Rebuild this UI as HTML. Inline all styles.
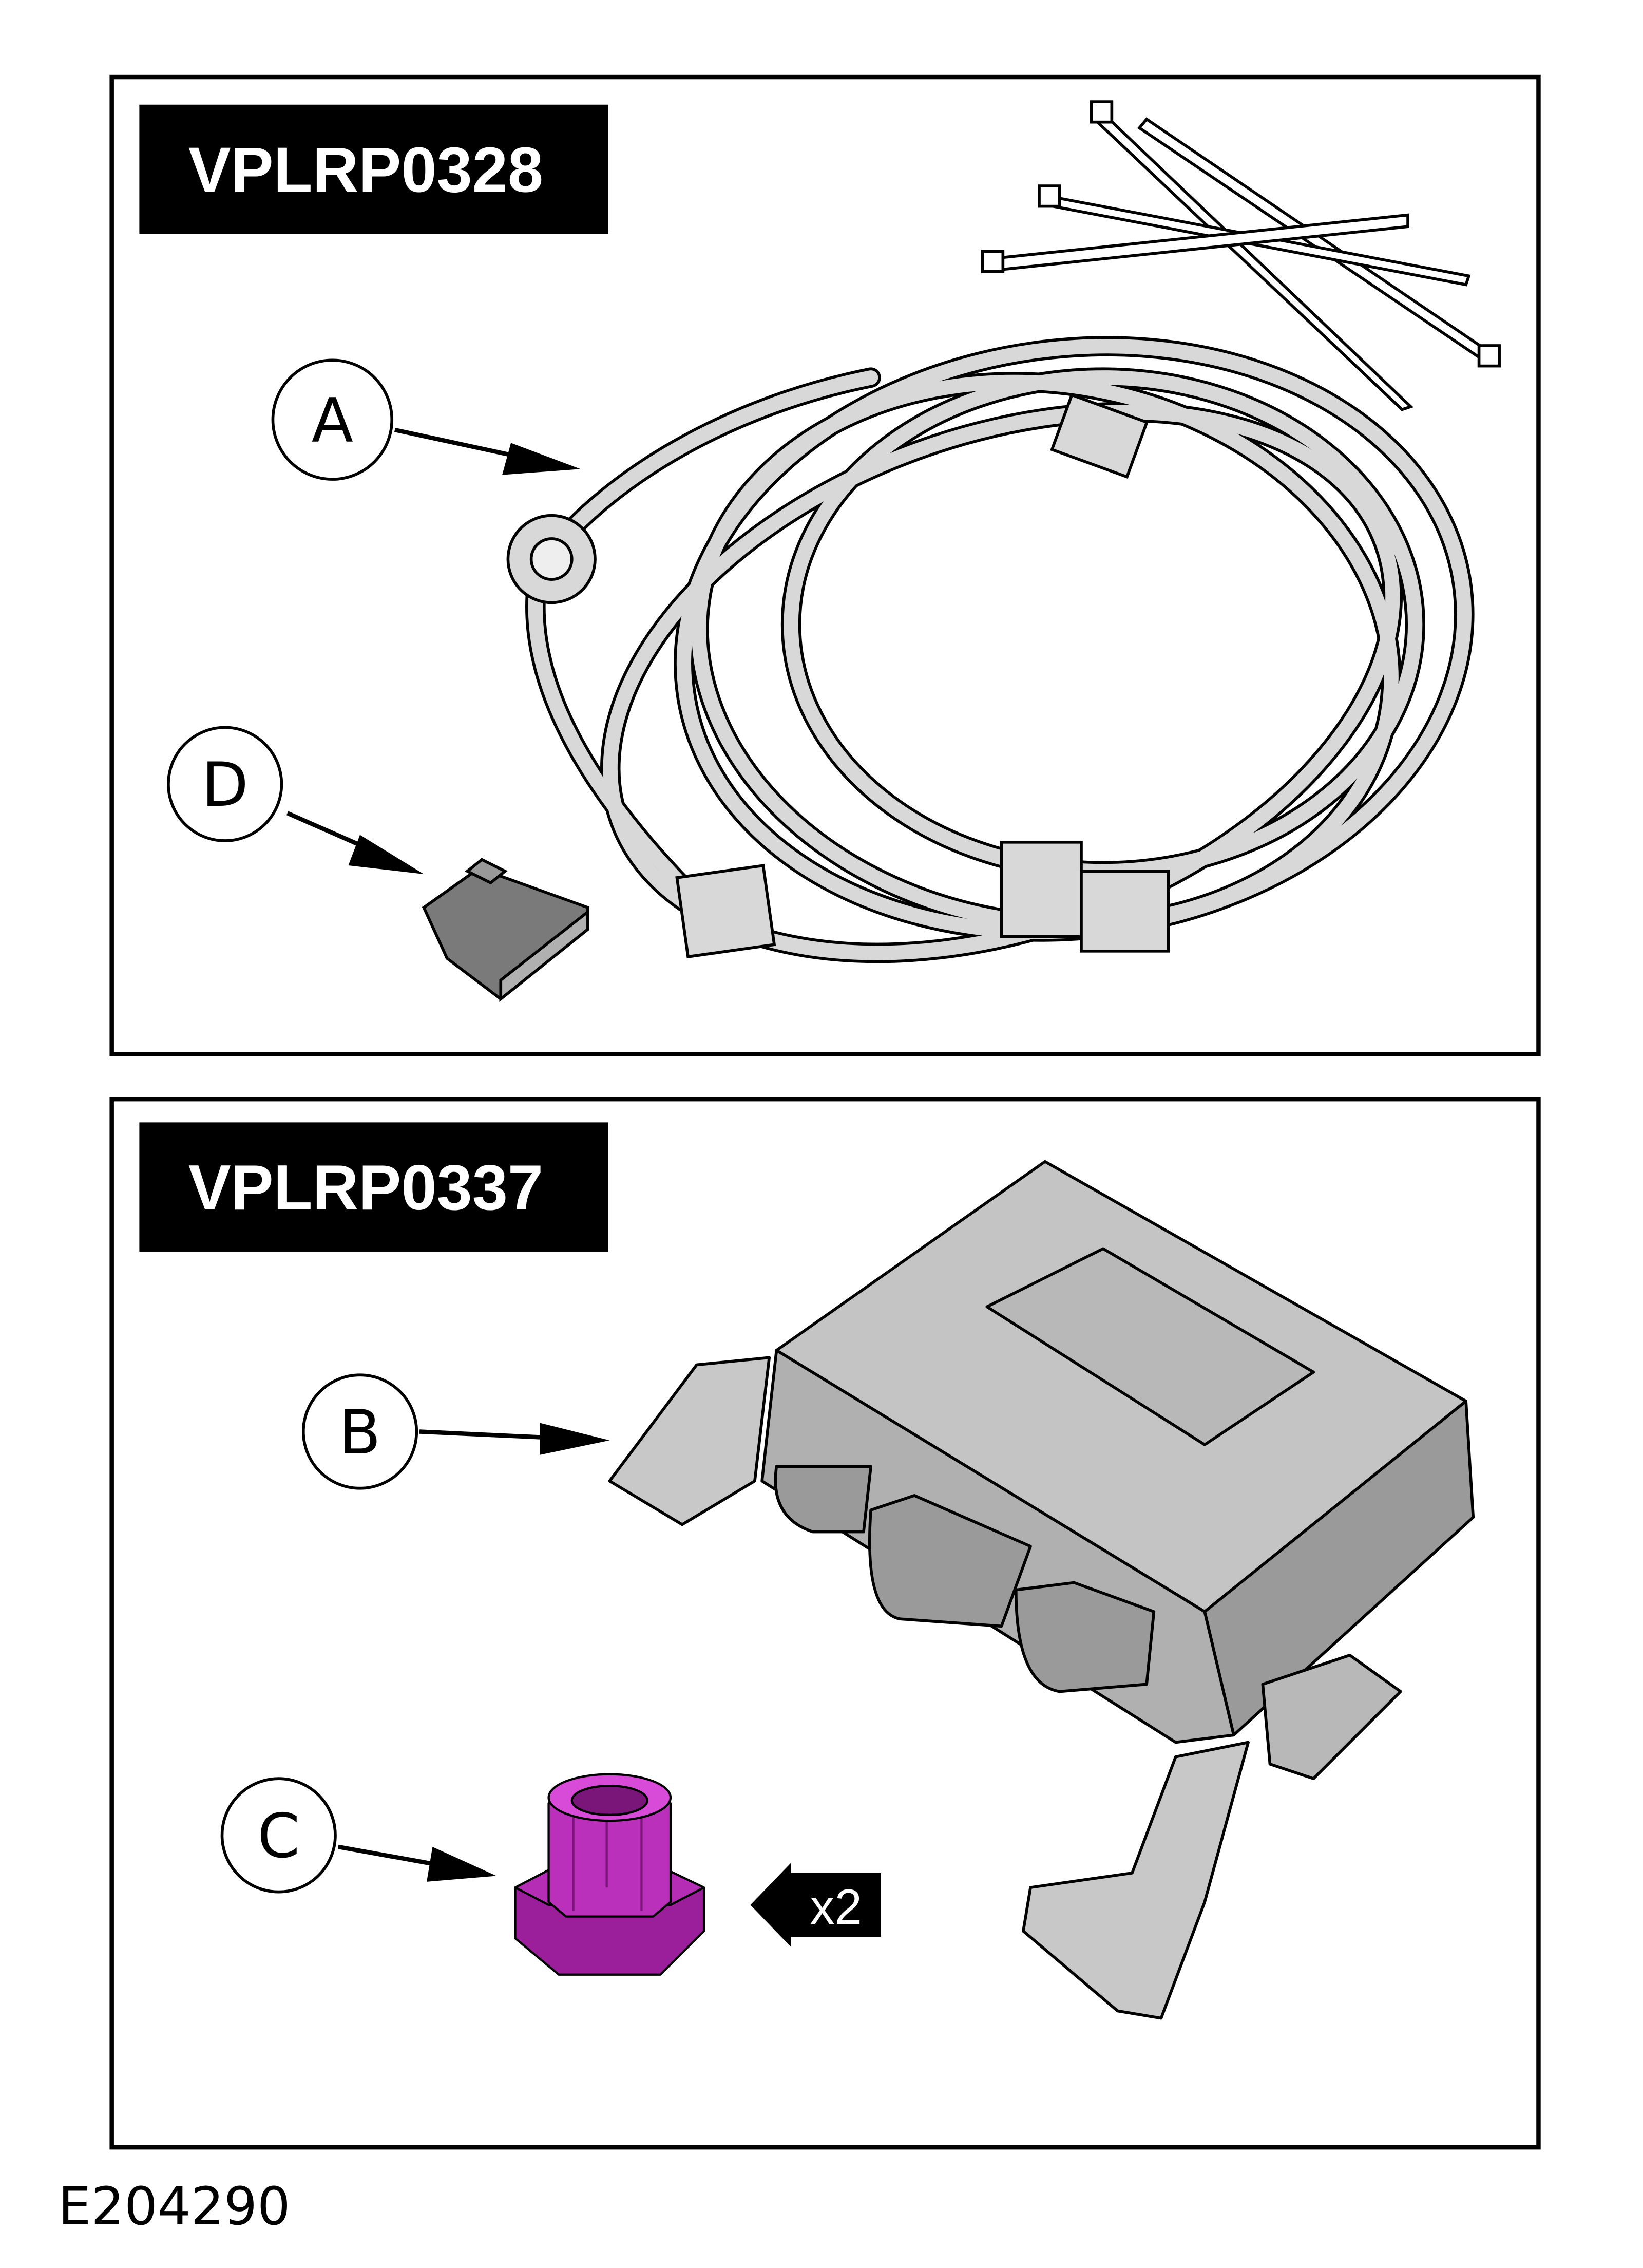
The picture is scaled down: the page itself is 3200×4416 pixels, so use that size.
<!DOCTYPE html>
<html><head><meta charset="utf-8"><style>
html,body{margin:0;padding:0;background:#fff;}
svg{display:block;}
</style></head><body>
<svg width="3200" height="4416" viewBox="0 0 1132 1562" xmlns="http://www.w3.org/2000/svg">
<rect width="1132" height="1562" fill="#fff"/>
<rect x="77" y="53" width="983" height="673" fill="none" stroke="#000" stroke-width="3"/>
<rect x="77" y="757" width="983" height="722" fill="none" stroke="#000" stroke-width="3"/>
<rect x="96" y="72" width="323" height="89" fill="#000"/>
<text x="252" y="132" font-family="Liberation Sans, sans-serif" font-weight="bold" font-size="44" fill="#fff" text-anchor="middle">VPLRP0328</text>
<rect x="96" y="773" width="323" height="89" fill="#000"/>
<text x="252" y="833" font-family="Liberation Sans, sans-serif" font-weight="bold" font-size="44" fill="#fff" text-anchor="middle">VPLRP0337</text>
<text x="40" y="1532" font-family="DejaVu Sans, Liberation Sans, sans-serif" font-size="36" fill="#000">E204290</text>

<g stroke="#000" stroke-width="2" fill="#fff">
<path d="M760 78 L972 280 L966 282 L754 82 Z"/>
<path d="M790 82 L1030 245 L1025 250 L785 88 Z"/>
<path d="M722 135 L1012 190 L1010 196 L720 141 Z"/>
<path d="M684 178 L970 148 L970 156 L686 186 Z"/>
<rect x="752" y="70" width="14" height="14"/><rect x="716" y="128" width="14" height="14"/>
<rect x="677" y="173" width="14" height="14"/><rect x="1019" y="238" width="14" height="14"/>
</g>

<g fill="none" stroke-linecap="round">
<g stroke="#000" stroke-width="14">
<ellipse cx="740" cy="440" rx="270" ry="200" transform="rotate(-8 740 440)"/>
<ellipse cx="720" cy="450" rx="240" ry="185" transform="rotate(10 720 450)"/>
<ellipse cx="760" cy="430" rx="215" ry="170"/>
<ellipse cx="690" cy="470" rx="280" ry="170" transform="rotate(-20 690 470)"/>
<path d="M380 380 C420 330 500 280 600 260"/>
<path d="M370 400 C360 480 420 560 480 620"/>
</g>
<g stroke="#d8d8d8" stroke-width="10">
<ellipse cx="740" cy="440" rx="270" ry="200" transform="rotate(-8 740 440)"/>
<ellipse cx="720" cy="450" rx="240" ry="185" transform="rotate(10 720 450)"/>
<ellipse cx="760" cy="430" rx="215" ry="170"/>
<ellipse cx="690" cy="470" rx="280" ry="170" transform="rotate(-20 690 470)"/>
<path d="M380 380 C420 330 500 280 600 260"/>
<path d="M370 400 C360 480 420 560 480 620"/>
</g>
</g>
<g stroke="#000" stroke-width="2" fill="#d8d8d8">
<circle cx="380" cy="385" r="30"/><circle cx="380" cy="385" r="14" fill="#eee"/>
<rect x="690" y="580" width="55" height="65"/><rect x="745" y="600" width="60" height="55"/>
<rect x="470" y="600" width="60" height="55" transform="rotate(-8 500 628)"/>
<rect x="730" y="280" width="55" height="40" transform="rotate(20 757 300)"/>
</g>

<g stroke="#000" stroke-width="2">
<path d="M292 625 L330 598 L405 625 L405 640 L345 688 L308 660 Z" fill="#7a7a7a"/>
<path d="M322 600 L332 592 L348 600 L338 608 Z" fill="#999"/>
<path d="M345 688 L405 640 L405 628 L345 675 Z" fill="#b0b0b0"/>
</g>

<g font-family="DejaVu Sans, Liberation Sans, sans-serif" font-size="42" text-anchor="middle">
<circle cx="229" cy="289" r="41" fill="#fff" stroke="#000" stroke-width="2"/><text x="229" y="304">A</text>
<circle cx="155" cy="540" r="39" fill="#fff" stroke="#000" stroke-width="2"/><text x="155" y="555">D</text>
<circle cx="248" cy="986" r="39" fill="#fff" stroke="#000" stroke-width="2"/><text x="248" y="1001">B</text>
<circle cx="192" cy="1264" r="39" fill="#fff" stroke="#000" stroke-width="2"/><text x="192" y="1279">C</text>
</g>
<g stroke="#000" stroke-width="3">
<line x1="272" y1="296" x2="360" y2="315"/><line x1="198" y1="560" x2="255" y2="585"/>
<line x1="289" y1="986" x2="375" y2="990"/><line x1="233" y1="1272" x2="300" y2="1284"/>
</g>
<g fill="#000">
<polygon points="400,323 352,305 346,327"/>
<polygon points="292,602 248,575 240,596"/>
<polygon points="420,992 372,980 372,1002"/>
<polygon points="342,1292 298,1272 294,1296"/>
</g>

<g stroke="#000" stroke-width="2" stroke-linejoin="round">
<path d="M535 930 L720 800 L1010 965 L830 1110 Z" fill="#c4c4c4"/>
<path d="M830 1110 L1010 965 L1015 1045 L850 1195 Z" fill="#9a9a9a"/>
<path d="M535 930 L830 1110 L850 1195 L810 1200 L525 1020 Z" fill="#b0b0b0"/>
<path d="M680 900 L760 860 L905 945 L830 995 Z" fill="#b8b8b8"/>
<path d="M420 1020 L480 940 L530 935 L520 1020 L470 1050 Z" fill="#c8c8c8"/>
<path d="M870 1160 L930 1140 L965 1165 L905 1225 L875 1215 Z" fill="#b8b8b8"/>
<path d="M810 1210 L860 1200 L830 1310 L800 1390 L770 1385 L705 1330 L710 1300 L780 1290 Z" fill="#c8c8c8"/>
<path d="M535 1010 Q530 1045 560 1055 L595 1055 L600 1010 Z" fill="#9a9a9a"/>
<path d="M600 1040 Q595 1110 620 1115 L690 1120 L710 1065 L630 1030 Z" fill="#9a9a9a"/>
<path d="M700 1095 Q700 1160 730 1165 L790 1160 L795 1110 L740 1090 Z" fill="#9a9a9a"/>
</g>

<g stroke="#000" stroke-width="1.5" stroke-linejoin="round">
<path d="M355 1300 L378 1288 L460 1288 L485 1300 L485 1330 L455 1360 L385 1360 L355 1335 Z" fill="#9b1e9b"/>
<path d="M355 1300 L378 1288 L460 1288 L485 1300 L462 1312 L378 1312 Z" fill="#b52db5"/>
<path d="M378 1242 L390 1230 L450 1230 L462 1242 L462 1310 L450 1320 L390 1320 L378 1310 Z" fill="#bb30bb"/>
<path d="M418 1300 L418 1240 M395 1316 L395 1245 M442 1316 L442 1245" stroke="#7a157a" fill="none"/>
<ellipse cx="420" cy="1238" rx="42" ry="16" fill="#d84ad8"/>
<ellipse cx="420" cy="1240" rx="26" ry="10" fill="#7a157a"/>
</g>
<rect x="542" y="1290" width="65" height="44" fill="#000"/>
<polygon points="517,1312 545,1283 545,1341" fill="#000"/>
<text x="576" y="1325" font-family="Liberation Sans, sans-serif" font-size="34" fill="#fff" text-anchor="middle">x2</text>
</svg>
</body></html>
